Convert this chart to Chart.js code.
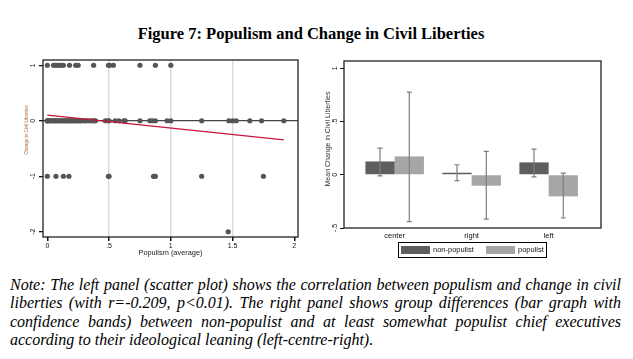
<!DOCTYPE html>
<html>
<head>
<meta charset="utf-8">
<script src="https://cdn.jsdelivr.net/npm/chart.js@4.4.1/dist/chart.umd.min.js"></script>
<style>
  body { margin: 0; width: 633px; height: 359px; background: #fff; position: relative; overflow: hidden; }
  #title { position: absolute; left: 0; top: 24px; width: 622px; text-align: center;
           font: bold 16.5px "Liberation Serif", "Times New Roman", serif; color: #000; }
  #left { position: absolute; left: 0; top: 50px; }
  #right { position: absolute; left: 315px; top: 50px; }
  #legend { position: absolute; left: 398px; top: 242px; width: 147px; height: 14px; border: 1px solid #000;
            font: 7.5px "Liberation Sans", Arial, sans-serif; color: #111; white-space: nowrap; }
  #legend span { position: absolute; }
  #legend .sw { top: 3px; width: 29px; height: 8px; }
  #legend .txt { top: 2px; line-height: 9px; }
  #note { position: absolute; left: 10px; top: 276px; width: 611px;
          font: italic 16px/18.3px "Liberation Serif", "Times New Roman", serif; color: #000; }
  #note div { text-align: justify; text-align-last: justify; white-space: nowrap; }
  #note div.last { text-align-last: left; }
</style>
</head>
<body>
<div id="title">Figure 7: Populism and Change in Civil Liberties</div>
<canvas id="left" width="315" height="215"></canvas>
<canvas id="right" width="318" height="215"></canvas>
<div id="legend"></div>
<div id="note">
  <div>Note: The left panel (scatter plot) shows the correlation between populism and change in civil</div>
  <div>liberties (with r=-0.209, p&lt;0.01). The right panel shows group differences (bar graph with</div>
  <div>confidence bands) between non-populist and at least somewhat populist chief executives</div>
  <div class="last">according to their ideological leaning (left-centre-right).</div>
</div>
<script>
// left panel: populism score of each leader, grouped by the change in civil liberties
const popAtPlus1 = [0, 0.05, 0.065, 0.08, 0.1, 0.115, 0.13, 0.18, 0.23, 0.25, 0.375, 0.495, 0.505, 0.535, 0.75, 0.875, 1.0];
const popAtZero = [0, 0, 0, 0.01, 0.02, 0.03, 0.04, 0.05, 0.06, 0.07, 0.08, 0.09, 0.1, 0.11, 0.12, 0.13, 0.14,
  0.15, 0.16, 0.17, 0.18, 0.19, 0.2, 0.21, 0.22, 0.23, 0.24, 0.25, 0.26, 0.27, 0.28, 0.3, 0.31, 0.33, 0.35,
  0.37, 0.38, 0.39, 0.47, 0.49, 0.5, 0.55, 0.58, 0.62, 0.63, 0.75, 0.83, 0.85, 0.875, 0.97, 1.0, 1.25,
  1.47, 1.5, 1.53, 1.64, 1.735, 1.915];
const popAtMinus1 = [0, 0.07, 0.13, 0.175, 0.495, 0.5, 0.86, 0.865, 0.875, 1.25, 1.75];
const popAtMinus2 = [1.465];
const fitX = [0, 1.915];
const fitY = [0.10, -0.345];
const leftXTicks = [0, 0.5, 1, 1.5, 2];
const leftYTicks = [1, 0, -1, -2];

// right panel: group means with confidence bands
const categories = ['center', 'right', 'left'];
const seriesNames = ['non-populist', 'populist'];
const nonPopMean = [0.125, 0.019, 0.116];
const nonPopLo = [-0.01, -0.056, -0.02];
const nonPopHi = [0.25, 0.094, 0.24];
const popMean = [0.172, -0.103, -0.203];
const popLo = [-0.44, -0.416, -0.406];
const popHi = [0.775, 0.219, 0.016];
const rightYTicks = [1, 0.5, 0, -0.5];

const SANS = '"Liberation Sans", Arial, sans-serif';
const barColors = ['#5e5e5e', '#a6a6a6'];

// stata style numbers: .5, -.5
const fmt = v => String(v).replace(/^(-?)0\./, '$1.');

// plot box around chart area
const boxPlugin = {
  id: 'box',
  afterDatasetsDraw(chart) {
    const a = chart.chartArea, ctx = chart.ctx;
    ctx.save();
    ctx.strokeStyle = '#222';
    ctx.lineWidth = 1.3;
    ctx.strokeRect(a.left, a.top, a.right - a.left, a.bottom - a.top);
    ctx.restore();
  }
};

// y tick labels and y title turned on their side
const rotTicks = {
  id: 'rotTicks',
  afterDraw(chart, args, opts) {
    const ctx = chart.ctx, y = chart.scales.y;
    const side = (text, x, py, font, color) => {
      ctx.save();
      ctx.font = font;
      ctx.fillStyle = color;
      ctx.textAlign = 'center';
      ctx.textBaseline = 'middle';
      ctx.translate(x, py);
      ctx.rotate(-Math.PI / 2);
      ctx.fillText(text, 0, 0);
      ctx.restore();
    };
    opts.values.forEach(v => side(fmt(v), opts.x, y.getPixelForValue(v), '7px ' + SANS, '#111'));
    side(opts.title, opts.titleX, opts.titleY, opts.titleSize + 'px ' + SANS, opts.titleColor);
  }
};

const errorBars = {
  id: 'errorBars',
  afterDatasetsDraw(chart) {
    const ctx = chart.ctx, y = chart.scales.y;
    ctx.save();
    ctx.strokeStyle = '#7e7e7e';
    ctx.lineWidth = 1.2;
    chart.data.datasets.forEach((ds, di) => {
      chart.getDatasetMeta(di).data.forEach((el, i) => {
        const lo = y.getPixelForValue(ds.ciLo[i]);
        const hi = y.getPixelForValue(ds.ciHi[i]);
        ctx.beginPath();
        ctx.moveTo(el.x, lo); ctx.lineTo(el.x, hi);
        ctx.moveTo(el.x - 2.5, lo); ctx.lineTo(el.x + 2.5, lo);
        ctx.moveTo(el.x - 2.5, hi); ctx.lineTo(el.x + 2.5, hi);
        ctx.stroke();
      });
    });
    ctx.restore();
  }
};

const scatterPoints = [];
[[1, popAtPlus1], [0, popAtZero], [-1, popAtMinus1], [-2, popAtMinus2]].forEach(([y, xs]) => {
  xs.forEach(x => scatterPoints.push({ x: x, y: y }));
});

new Chart(document.getElementById('left'), {
  type: 'scatter',
  data: {
    datasets: [
      {
        type: 'line',
        data: fitX.map((x, i) => ({ x: x, y: fitY[i] })),
        borderColor: '#c8143c',
        borderWidth: 1.3,
        pointRadius: 0,
        order: 0
      },
      {
        data: scatterPoints,
        backgroundColor: '#555',
        borderWidth: 0,
        pointRadius: 2.6,
        order: 1
      }
    ]
  },
  options: {
    responsive: false,
    animation: false,
    layout: { padding: { top: 10, right: 17, left: 0, bottom: 0 } },
    plugins: {
      legend: { display: false },
      tooltip: { enabled: false },
      rotTicks: { values: leftYTicks, x: 33, title: 'Change in Civil Liberties', titleX: 27, titleY: 80, titleSize: 4.6, titleColor: '#a86a3e' }
    },
    scales: {
      x: {
        type: 'linear',
        min: -0.035,
        max: 2.03,
        afterBuildTicks: s => { s.ticks = leftXTicks.map(v => ({ value: v })); },
        afterFit: s => { s.height = 28; },
        ticks: { callback: v => fmt(v), font: { size: 7, family: SANS }, color: '#111', padding: 1, maxRotation: 0, autoSkip: false },
        grid: {
          color: c => (c.index > 0 && c.index < leftXTicks.length - 1) ? '#dcdcdc' : 'rgba(0,0,0,0)',
          lineWidth: 1.5,
          tickColor: '#111',
          tickLength: 4
        },
        border: { display: false },
        title: { display: true, text: 'Populism (average)', font: { size: 7.4, family: SANS }, color: '#222', padding: { top: 0, bottom: 7.5 } }
      },
      y: {
        min: -2.095,
        max: 1.095,
        afterBuildTicks: s => { s.ticks = leftYTicks.map(v => ({ value: v })); },
        afterFit: s => { s.width = 43; },
        ticks: { display: false },
        grid: {
          color: c => (c.tick && c.tick.value === 0) ? '#444' : 'rgba(0,0,0,0)',
          lineWidth: 1.3,
          tickColor: '#111',
          tickLength: 4
        },
        border: { display: false }
      }
    }
  },
  plugins: [boxPlugin, rotTicks]
});

new Chart(document.getElementById('right'), {
  type: 'bar',
  data: {
    datasets: [
      {
        label: seriesNames[0],
        data: categories.map((c, i) => ({ x: i + 1, y: nonPopMean[i] })),
        ciLo: nonPopLo,
        ciHi: nonPopHi,
        backgroundColor: barColors[0],
        borderWidth: 0
      },
      {
        label: seriesNames[1],
        data: categories.map((c, i) => ({ x: i + 1, y: popMean[i] })),
        ciLo: popLo,
        ciHi: popHi,
        backgroundColor: barColors[1],
        borderWidth: 0
      }
    ]
  },
  options: {
    responsive: false,
    animation: false,
    categoryPercentage: 0.76,
    barPercentage: 1.0,
    layout: { padding: { top: 11, right: 32, left: 0, bottom: 0 } },
    plugins: {
      legend: { display: false },
      tooltip: { enabled: false },
      rotTicks: { values: rightYTicks, x: 20, title: 'Mean Change in Civil Liberties', titleX: 13, titleY: 89, titleSize: 7, titleColor: '#333' }
    },
    scales: {
      x: {
        type: 'linear',
        offset: false,
        min: 0.342,
        max: 3.68,
        afterBuildTicks: s => { s.ticks = categories.map((c, i) => ({ value: i + 1 })); },
        afterFit: s => { s.height = 37; },
        ticks: { callback: v => categories[v - 1], font: { size: 7.5, family: SANS }, color: '#111', padding: 3, maxRotation: 0, autoSkip: false },
        grid: { display: false, drawTicks: false, offset: false },
        border: { display: false }
      },
      y: {
        min: -0.5,
        max: 1.068,
        afterBuildTicks: s => { s.ticks = rightYTicks.map(v => ({ value: v })); },
        afterFit: s => { s.width = 29; },
        ticks: { display: false },
        grid: { drawOnChartArea: false, tickColor: '#111', tickLength: 4 },
        border: { display: false }
      }
    }
  },
  plugins: [boxPlugin, rotTicks, errorBars]
});

// legend box under the bar panel
const legendEl = document.getElementById('legend');
const legendSlots = [[2, 34], [87, 119]];
seriesNames.forEach((name, i) => {
  const sw = document.createElement('span');
  sw.className = 'sw';
  sw.style.left = legendSlots[i][0] + 'px';
  sw.style.background = barColors[i];
  const txt = document.createElement('span');
  txt.className = 'txt';
  txt.style.left = legendSlots[i][1] + 'px';
  txt.textContent = name;
  legendEl.appendChild(sw);
  legendEl.appendChild(txt);
});
</script>
</body>
</html>
